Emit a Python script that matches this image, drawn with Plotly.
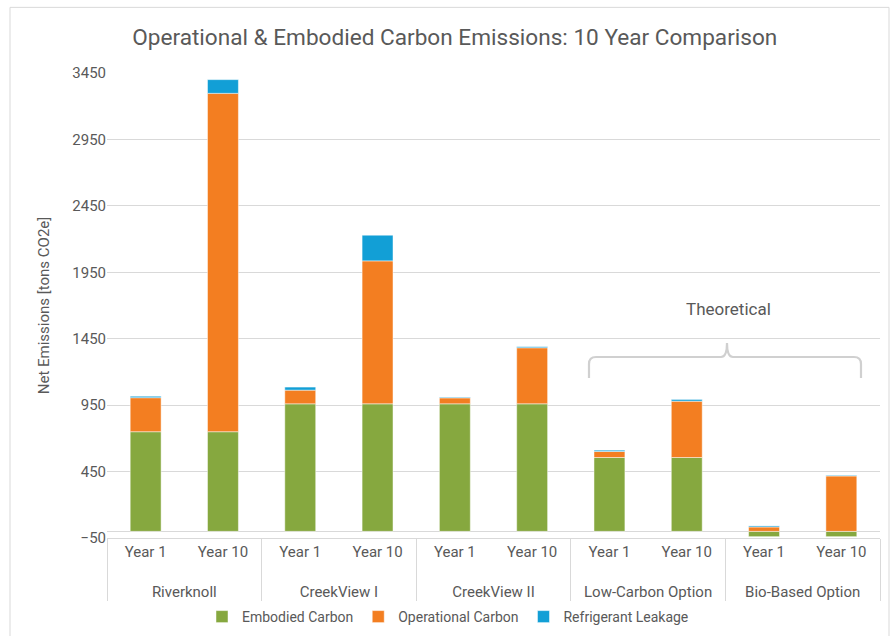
import plotly.graph_objects as go

group_names = ["Riverknoll", "CreekView I", "CreekView II", "Low-Carbon Option", "Bio-Based Option"]
groups = [g for g in group_names for _ in range(2)]
years = ["Year 1", "Year 10"] * 5

embodied = [750, 750, 960, 960, 960, 960, 556, 556, -40, -40]
operational = [256, 2547, 103, 1076, 45, 422, 45, 424, 33, 417]
refrigerant = [11, 103, 23, 193, 5, 8, 10, 13, 8, 5]

series_names = ["Embodied Carbon", "Operational Carbon", "Refrigerant Leakage"]
colors = ["#86a83f", "#f37e21", "#129fd6"]

tick_vals = [-50, 450, 950, 1450, 1950, 2450, 2950, 3450]

FONT = "Roboto, 'Open Sans', sans-serif"
TXT = "#595959"

# second-row labels pushed down one line to mimic the wider row spacing
group_labels = ["<br>" + g for g in groups]

fig = go.Figure()
for name, vals, col in zip(series_names, [embodied, operational, refrigerant], colors):
    fig.add_trace(go.Bar(
        x=[group_labels, years], y=vals, name=name,
        marker=dict(color=col, line=dict(color="rgba(255,255,255,0.6)", width=0.8)),
    ))

# pixel -> paper helpers (plot area: x 107..880, y 72.7..538.2)
PX0, PX1, PY0, PY1 = 107, 880, 72.7, 538.2
def xp(px):
    return (px - PX0) / (PX1 - PX0)
def yp(py):
    return (PY1 - py) / (PY1 - PY0)

# brace path
bl, br, bc = 589, 861, 727
ytop, ybot, ypk = 357, 378, 343
pts = (f"M {xp(bl)},{yp(ybot)} L {xp(bl)},{yp(ytop+7)} Q {xp(bl)},{yp(ytop)} {xp(bl+7)},{yp(ytop)} "
       f"L {xp(bc-6)},{yp(ytop)} Q {xp(bc)},{yp(ytop)} {xp(bc)},{yp(ypk)} "
       f"Q {xp(bc)},{yp(ytop)} {xp(bc+6)},{yp(ytop)} L {xp(br-7)},{yp(ytop)} "
       f"Q {xp(br)},{yp(ytop)} {xp(br)},{yp(ytop+7)} L {xp(br)},{yp(ybot)}")

fig.update_layout(
    width=890, height=636,
    margin=dict(l=PX0, r=890 - PX1, t=PY0, b=636 - PY1, autoexpand=False),
    paper_bgcolor="white", plot_bgcolor="white",
    barmode="relative", bargap=0.6,
    font=dict(family=FONT, color=TXT, size=15),
    title=dict(text="Operational &amp; Embodied Carbon Emissions: 10 Year Comparison",
               x=0.511, xanchor="center", y=1 - 37 / 636, yanchor="middle",
               font=dict(size=22.6, color=TXT, family=FONT)),
    legend=dict(orientation="h", x=448 / 890, xref="container", xanchor="center",
                y=(636 - 617) / 636, yref="container", yanchor="middle",
                font=dict(size=14, color=TXT), itemwidth=30, traceorder="normal"),
    showlegend=True,
    shapes=[
        dict(type="path", xref="paper", yref="paper", path=pts,
             line=dict(color="#d0d0d0", width=2.2)),
        dict(type="rect", xref="paper", yref="paper", x0=xp(10), x1=xp(889), y0=yp(7), y1=yp(650),
             line=dict(color="#d9d9d9", width=1), layer="below"),
    ],
    annotations=[
        dict(text="Theoretical", xref="paper", yref="paper", x=xp(728), y=yp(309),
             showarrow=False, font=dict(size=17, color=TXT), xanchor="center", yanchor="middle"),
    ],
)

fig.update_yaxes(
    range=[-50, 3450], tickmode="array", tickvals=tick_vals,
    showgrid=True, gridcolor="#d9d9d9", gridwidth=1.3,
    zeroline=True, zerolinecolor="#d9d9d9", zerolinewidth=1.3,
    tickfont=dict(size=15, color=TXT), automargin=False,
    title=dict(text="Net Emissions [tons CO2e]", font=dict(size=15, color=TXT), standoff=19),
    ticks="", showline=False,
)
fig.update_xaxes(
    type="multicategory", showline=True, linecolor="#d9d9d9", linewidth=1.3,
    showdividers=True, dividercolor="#d9d9d9", dividerwidth=1.3, automargin=False,
    tickfont=dict(size=15, color=TXT), ticks="",
)

fig.write_html("out.html")
